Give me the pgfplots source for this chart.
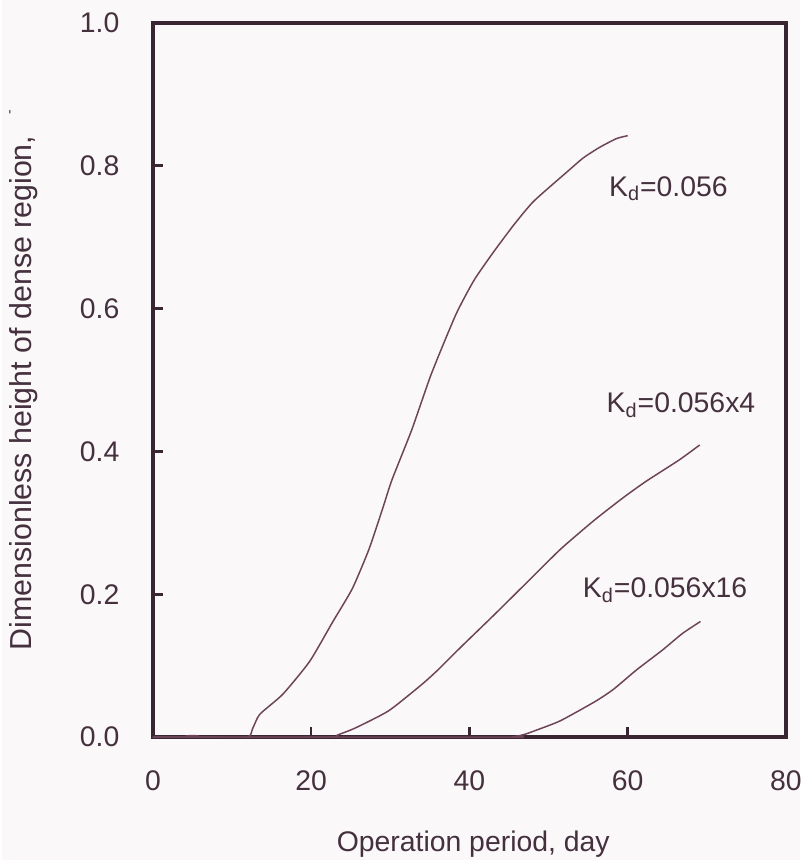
\documentclass[border=0pt]{standalone}
\usepackage{fontspec}
\setmainfont{Liberation Sans}
\usepackage{pgfplots}
\pgfplotsset{compat=1.18}
\definecolor{bgc}{HTML}{FBF8F9}
\definecolor{axc}{HTML}{3A2633}
\definecolor{crv}{HTML}{6E4558}
\definecolor{txc}{HTML}{45303E}

\pgfplotstableread{
x y
0 0
3.5 0
4.5 0.002
5.5 0.002
6.5 0
11.9 0
12.6 0.012
13.5 0.032
16.4 0.060
19.8 0.106
22.7 0.161
25.2 0.208
27.3 0.263
29.0 0.319
30.2 0.360
32.7 0.430
35.2 0.509
38.3 0.592
40.6 0.640
43.1 0.680
45.6 0.717
48.1 0.750
52.3 0.791
54.4 0.811
56.5 0.826
58.6 0.838
60.0 0.842
}\kdone

\pgfplotstableread{
x y
0 0
22.0 0
23.3 0.003
25.6 0.013
29.8 0.037
34.0 0.074
36.0 0.094
39.0 0.127
43.1 0.171
47.3 0.217
51.5 0.263
55.7 0.303
59.4 0.335
62.3 0.358
66.5 0.388
69.1 0.409
}\kdfour

\pgfplotstableread{
x y
0 0
44.6 0
45.8 0.001
47.0 0.004
48.5 0.010
51.5 0.023
55.9 0.050
58.2 0.067
61.1 0.094
64.4 0.122
66.9 0.145
69.2 0.162
}\kdsixteen

\begin{document}
\fontsize{14.3}{17}\selectfont
\begin{tikzpicture}
\fill[bgc] (-76pt,-62pt) rectangle (326pt,371.5pt);
\begin{axis}[
    scale only axis,
    width=319pt, height=360pt,
    xmin=0, xmax=80, ymin=0, ymax=1,
    xtick={0,20,40,60,80},
    ytick={0,0.2,0.4,0.6,0.8,1.0},
    tick pos=left,
    tick align=inside,
    major tick length=5pt,
    every tick/.style={axc, line width=1.3pt},
    axis line style={axc, line width=1.7pt},
    /pgf/number format/assume math mode=true,
    tick label style={txc},
    yticklabel style={xshift=-12pt,
        /pgf/number format/fixed,
        /pgf/number format/fixed zerofill,
        /pgf/number format/precision=1},
    xticklabel style={yshift=-12pt},
    xlabel={Operation period, day},
    ylabel={Dimensionless height of dense region,\hspace{0.7em}\raisebox{0.6em}{\scriptsize -}},
    label style={txc},
    xlabel style={at={(axis description cs:0.506,-0.15)}, anchor=center},
    ylabel style={at={(axis description cs:-0.204,0.5)}, anchor=center,
        font=\fontsize{15.3}{18}\selectfont},
]
\addplot[crv, line width=0.75pt, smooth, tension=0.35] table {\kdone};
\addplot[crv, line width=0.75pt, smooth, tension=0.35] table {\kdfour};
\addplot[crv, line width=0.75pt, smooth, tension=0.35] table {\kdsixteen};
\node[txc, anchor=west, inner sep=0pt] at (axis cs:57.6,0.768) {K\textsubscript{d}=0.056};
\node[txc, anchor=west, inner sep=0pt] at (axis cs:57.3,0.465) {K\textsubscript{d}=0.056x4};
\node[txc, anchor=west, inner sep=0pt] at (axis cs:54.3,0.206) {K\textsubscript{d}=0.056x16};
\end{axis}
\end{tikzpicture}
\end{document}
